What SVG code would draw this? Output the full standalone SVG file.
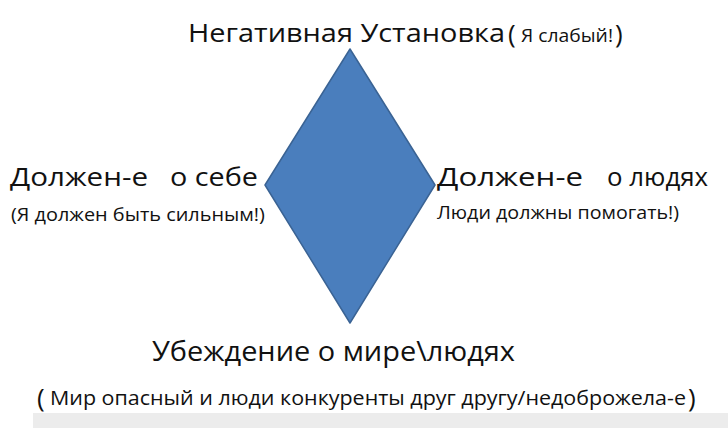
<svg xmlns="http://www.w3.org/2000/svg" width="728" height="428" viewBox="0 0 728 428">
<style>
text{font-family:"Open Sans","Liberation Sans","DejaVu Sans",sans-serif;fill:#111111}
.big{font-size:25px}
.mid{font-size:19px}
.sm{font-size:18px}
.par{font-size:26px}
</style>
<rect x="0" y="0" width="728" height="428" fill="#ffffff"/>
<rect x="33" y="413" width="695" height="15" fill="#ececec"/>
<g id="diamond">
<polygon points="350,49 435,185 350,323 265,185" fill="#4a7ebd" stroke="#3a6394" stroke-width="1.5" stroke-linejoin="round"/>
</g>
<g id="top-label">
<text x="188" y="42" class="big" textLength="317" lengthAdjust="spacingAndGlyphs">Негативная Установка</text>
<text x="508" y="43" class="par">(</text>
<text x="521" y="42" class="mid" textLength="92" lengthAdjust="spacingAndGlyphs">Я слабый!</text>
<text x="615" y="43" class="par">)</text>
</g>
<g id="left-label">
<text x="10" y="186" style="font-size:26px" textLength="138" lengthAdjust="spacingAndGlyphs">Должен-е</text>
<text x="170" y="186" style="font-size:26px" textLength="88" lengthAdjust="spacingAndGlyphs">о себе</text>
<text x="11" y="221" class="sm" textLength="254" lengthAdjust="spacingAndGlyphs">(Я должен быть сильным!)</text>
</g>
<g id="right-label">
<text x="437" y="186" style="font-size:26px" textLength="146" lengthAdjust="spacingAndGlyphs">Должен-е</text>
<text x="607" y="186" style="font-size:26px" textLength="101" lengthAdjust="spacingAndGlyphs">о людях</text>
<text x="437" y="219" class="sm" textLength="242" lengthAdjust="spacingAndGlyphs">Люди должны помогать!)</text>
</g>
<g id="bottom-label">
<text x="152" y="361" style="font-size:28px" textLength="363" lengthAdjust="spacingAndGlyphs">Убеждение о мире\людях</text>
<text x="37" y="407" class="par">(</text>
<text x="50" y="405" style="font-size:20px" textLength="636" lengthAdjust="spacingAndGlyphs">Мир опасный и люди конкуренты друг другу/недоброжела-е</text>
<text x="688" y="407" class="par">)</text>
</g>
</svg>
